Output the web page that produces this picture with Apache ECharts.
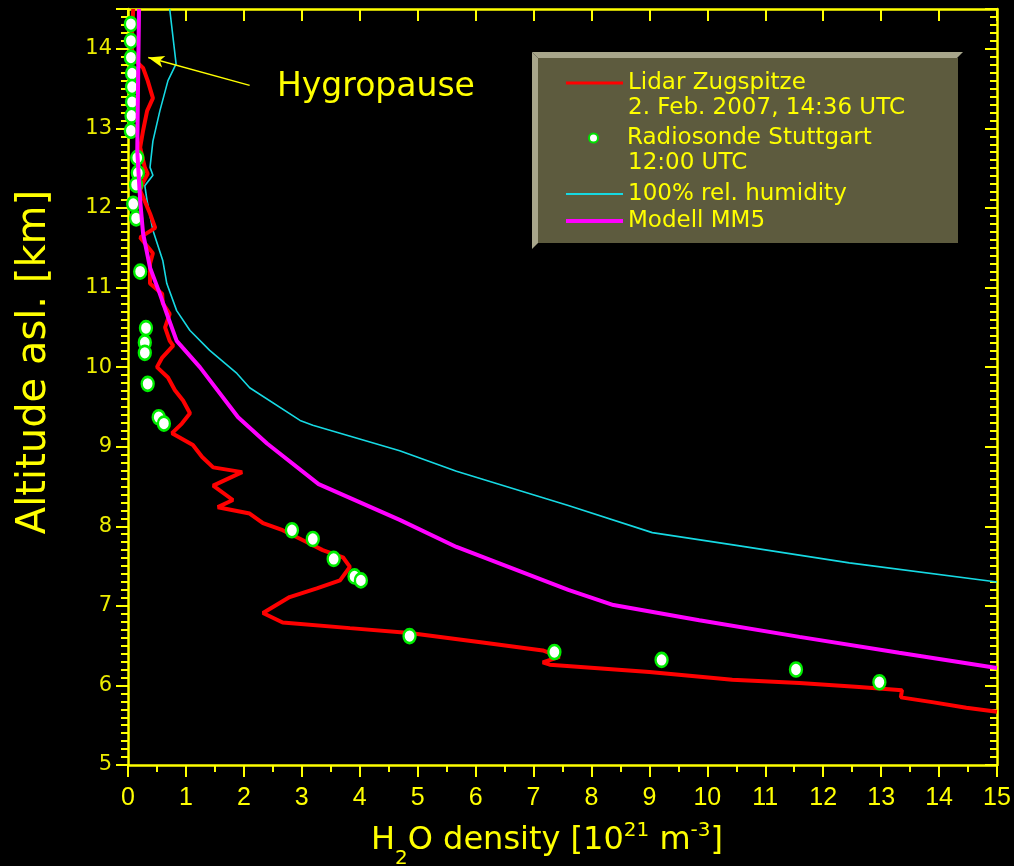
<!DOCTYPE html>
<html>
<head>
<meta charset="utf-8">
<script src="https://cdn.jsdelivr.net/npm/echarts@6/dist/echarts.min.js"></script>
<style>
html,body{margin:0;padding:0;background:#000;}
#chart{width:1014px;height:866px;}
</style>
</head>
<body>
<div id="chart"></div>
<script>
// ---- data (x: H2O density [1e21 m^-3], y: altitude [km]) ----
const xTicks = [0,1,2,3,4,5,6,7,8,9,10,11,12,13,14,15];
const yTicks = [5,6,7,8,9,10,11,12,13,14];

const lidar = [
  [0.09,14.50],[0.07,14.20],[0.07,13.89],[0.26,13.76],[0.34,13.60],[0.43,13.38],[0.33,13.22],
  [0.26,12.97],[0.21,12.76],[0.29,12.51],[0.34,12.43],[0.26,12.32],[0.21,12.22],[0.38,11.93],
  [0.47,11.75],[0.21,11.63],[0.43,11.43],[0.38,11.30],[0.38,11.05],[0.59,10.92],[0.60,10.80],
  [0.72,10.67],[0.64,10.50],[0.72,10.33],[0.78,10.27],[0.59,10.12],[0.50,10.00],[0.69,9.87],
  [0.81,9.71],[0.95,9.58],[1.07,9.42],[0.93,9.29],[0.76,9.17],[1.12,9.02],[1.28,8.87],
  [1.47,8.74],[1.97,8.68],[1.47,8.51],[1.81,8.33],[1.55,8.24],[2.10,8.16],[2.33,8.04],
  [2.67,7.95],[3.09,7.80],[3.36,7.70],[3.71,7.61],[3.83,7.49],[3.66,7.32],[3.26,7.22],
  [2.79,7.11],[2.33,6.91],[2.67,6.79],[3.83,6.72],[4.86,6.66],[6.12,6.54],[7.16,6.44],
  [7.45,6.36],[7.16,6.29],[7.28,6.26],[9.00,6.17],[10.43,6.07],[11.59,6.03],[12.62,5.98],
  [13.36,5.94],[13.34,5.85],[13.88,5.79],[14.47,5.72],[15.00,5.67]
];

const radiosonde = [
  [0.05,14.31],[0.05,14.10],[0.05,13.89],[0.07,13.69],[0.07,13.52],[0.07,13.33],[0.06,13.16],
  [0.05,12.97],[0.16,12.63],[0.17,12.44],[0.14,12.29],[0.09,12.05],[0.14,11.87],[0.21,11.20],
  [0.31,10.49],[0.29,10.31],[0.29,10.18],[0.34,9.79],[0.53,9.37],[0.62,9.29],[2.83,7.95],
  [3.19,7.84],[3.55,7.59],[3.91,7.37],[4.02,7.32],[4.86,6.62],[7.36,6.42],[9.21,6.32],
  [11.53,6.20],[12.97,6.04]
];

const saturation = [
  [0.72,14.50],[0.83,13.81],[0.69,13.60],[0.55,13.22],[0.43,12.84],[0.38,12.51],[0.43,12.41],
  [0.29,12.28],[0.33,12.09],[0.43,11.72],[0.60,11.34],[0.67,11.05],[0.84,10.71],[1.07,10.46],
  [1.41,10.21],[1.88,9.92],[2.10,9.74],[2.97,9.33],[3.19,9.27],[4.69,8.95],[5.67,8.69],
  [7.60,8.26],[9.05,7.92],[10.50,7.76],[12.45,7.54],[15.00,7.30]
];

const mm5 = [
  [0.19,14.50],[0.17,13.35],[0.16,12.72],[0.21,12.09],[0.26,11.68],[0.38,11.25],[0.55,10.92],
  [0.67,10.67],[0.84,10.33],[1.24,10.00],[1.90,9.37],[2.40,9.04],[3.29,8.53],[4.69,8.08],
  [5.67,7.74],[7.60,7.20],[8.38,7.01],[9.86,6.82],[11.59,6.61],[13.31,6.41],[15.00,6.22]
];

// annotation arrow (start at label, end at hygropause)
const hygroArrow = [[2.10,13.54],[0.35,13.89]];

const names = {
  lidar: 'Lidar Zugspitze',
  sonde: 'Radiosonde Stuttgart',
  sat: '100% rel. humidity',
  mm5: 'Modell MM5'
};
const legendSubLines = ['2. Feb. 2007, 14:36 UTC', '12:00 UTC'];

// ---- style ----
const YEL = '#ffff00';
const legendFont = 'DejaVu Sans';
const chart = echarts.init(document.getElementById('chart'));

const axisCommon = {
  type: 'value',
  splitLine: {show: false},
  axisLine: {show: true, onZero: false, lineStyle: {color: YEL, width: 2.5}}
};

function legendAt(name, left, top, icon, h, extra) {
  return Object.assign({
    show: true, left: left, top: top, orient: 'vertical',
    itemWidth: 57, itemHeight: h, icon: icon,
    data: [name], selectedMode: false, z: 10,
    textStyle: {color: YEL, fontSize: 23, fontFamily: legendFont, lineHeight: 26}
  }, extra || {});
}

chart.setOption({
  backgroundColor: '#000',
  animation: false,
  grid: {left: 128, right: 17, top: 9, bottom: 101, containLabel: false},
  xAxis: [
    Object.assign({}, axisCommon, {
      position: 'bottom', min: 0, max: 15, interval: 1,
      axisTick: {show: true, inside: false, length: 12, lineStyle: {color: YEL, width: 2}},
      minorTick: {show: true, splitNumber: 2, length: 7, lineStyle: {color: YEL, width: 2}},
      axisLabel: {color: YEL, fontSize: 25, margin: 21,
        fontFamily: "'Liberation Sans Narrow', 'Liberation Sans', sans-serif"}
    }),
    Object.assign({}, axisCommon, {
      position: 'top', min: 0, max: 15, interval: 1,
      axisTick: {show: true, inside: true, length: 12, lineStyle: {color: YEL, width: 2}},
      axisLabel: {show: false}
    })
  ],
  yAxis: [
    Object.assign({}, axisCommon, {
      position: 'left', min: 5, max: 14.5, interval: 1,
      axisTick: {show: true, inside: false, length: 12, lineStyle: {color: YEL, width: 2}},
      minorTick: {show: true, splitNumber: 10, length: 7, lineStyle: {color: YEL, width: 2}},
      axisLabel: {color: '#ecec00', fontSize: 21, margin: 16, fontFamily: 'DejaVu Sans',
        showMaxLabel: false,
        formatter: v => (Number.isInteger(v) ? String(v) : '')}
    }),
    Object.assign({}, axisCommon, {
      position: 'right', min: 5, max: 14.5, interval: 1,
      axisTick: {show: true, inside: true, length: 12, lineStyle: {color: YEL, width: 2}},
      minorTick: {show: true, splitNumber: 10, length: 7, lineStyle: {color: YEL, width: 2}},
      axisLabel: {show: false}
    })
  ],
  legend: [
    legendAt(names.lidar, 561, 65, 'rect', 3),
    legendAt(names.sonde, 583, 120, 'circle', 9, {itemStyle: {color: '#ffffff', borderColor: '#00e000', borderWidth: 2, opacity: 1}}),
    legendAt(names.sat, 561, 176, 'rect', 2),
    legendAt(names.mm5, 561, 203, 'rect', 4)
  ],
  graphic: [
    // legend box with bevel
    {type: 'rect', z: 1, shape: {x: 538, y: 58, width: 420, height: 185}, style: {fill: '#5d5b3e'}},
    {type: 'polygon', z: 1, shape: {points: [[532,52],[963,52],[957,58],[538,58]]}, style: {fill: '#a8a68b'}},
    {type: 'polygon', z: 1, shape: {points: [[532,52],[538,58],[538,243],[532,249]]}, style: {fill: '#a8a68b'}},
    {type: 'text', z: 11, left: 628, top: 95,
      style: {text: legendSubLines[0], fill: YEL, fontSize: 23, fontFamily: legendFont, lineHeight: 26}},
    {type: 'text', z: 11, left: 628, top: 150,
      style: {text: legendSubLines[1], fill: YEL, fontSize: 23, fontFamily: legendFont, lineHeight: 26}},
    // annotation text
    {type: 'text', z: 11, left: 277, top: 71,
      style: {text: 'Hygropause', fill: YEL, fontSize: 33, fontFamily: 'DejaVu Sans'}},
    // axis titles
    {type: 'text', z: 11, x: 35, y: 362, rotation: Math.PI / 2,
      style: {text: 'Altitude asl. [km]', fill: YEL, fontSize: 40, fontFamily: 'DejaVu Sans',
        align: 'center', verticalAlign: 'middle'}},
    {type: 'text', z: 11, x: 547, y: 841,
      style: {
        text: 'H{sub|2}O density [10{sup|21} m{sup|-3}]',
        fill: YEL, fontSize: 32, fontFamily: 'DejaVu Sans', align: 'center', verticalAlign: 'middle',
        lineHeight: 40,
        rich: {
          sub: {fontSize: 20, fill: YEL, fontFamily: 'DejaVu Sans', verticalAlign: 'bottom', lineHeight: 20, padding: [0,0,-8,0]},
          sup: {fontSize: 20, fill: YEL, fontFamily: 'DejaVu Sans', verticalAlign: 'top', lineHeight: 20, padding: [0,0,6,0]}
        }
      }}
  ],
  series: [
    {
      name: names.sat, type: 'line', data: saturation, showSymbol: false, symbol: 'none',
      lineStyle: {color: '#16d9e3', width: 1.6}, itemStyle: {color: '#16d9e3'}, z: 2,
      markLine: {
        silent: true, animation: false,
        symbol: ['none', 'arrow'], symbolSize: [9, 16],
        label: {show: false},
        lineStyle: {color: YEL, width: 1.5, type: 'solid'},
        data: [[{coord: hygroArrow[0]}, {coord: hygroArrow[1]}]]
      }
    },
    {
      name: names.lidar, type: 'line', data: lidar, showSymbol: false, symbol: 'none',
      lineStyle: {color: '#ff0000', width: 4}, itemStyle: {color: '#ff0000'}, z: 3
    },
    {
      name: names.sonde, type: 'scatter', data: radiosonde, symbol: 'circle', symbolSize: [12, 14],
      itemStyle: {color: '#ffffff', borderColor: '#00ee00', borderWidth: 2.5, opacity: 1}, z: 4
    },
    {
      name: names.mm5, type: 'line', data: mm5, showSymbol: false, symbol: 'none',
      lineStyle: {color: '#ff00ff', width: 4}, itemStyle: {color: '#ff00ff'}, z: 5
    }
  ]
});
</script>
</body>
</html>
